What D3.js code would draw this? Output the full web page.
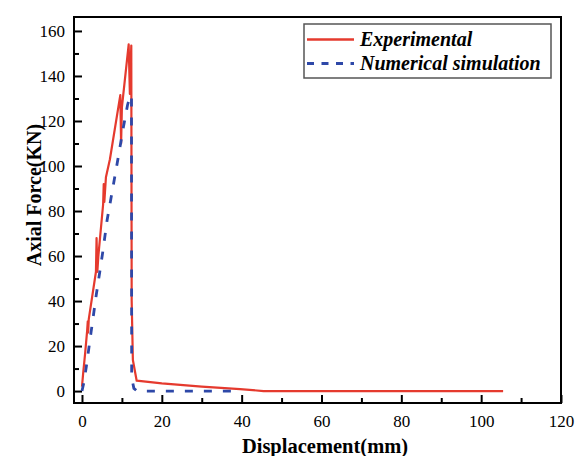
<!DOCTYPE html>
<html>
<head>
<meta charset="utf-8">
<script src="https://cdn.jsdelivr.net/npm/d3@7"></script>
<style>
  body { margin: 0; background: #fff; }
  text { font-family: "Liberation Serif", "Times New Roman", serif; }
</style>
</head>
<body>
<div id="chart"></div>
<script>
// displacement (mm) / axial force (kN)
var expDisp = [0, 0.3, 0.8, 1.3, 1.45, 1.55, 1.7, 3.5, 3.65, 3.85, 4.1, 5.3, 5.45, 5.6, 6.0, 7.0, 9.6, 9.8, 10.0, 11.7, 12.0, 12.35, 12.45, 12.75, 13.7, 20, 30, 39.6, 45.5, 105.5];
var expForce = [2, 8, 17, 27, 31, 26, 32, 53, 68, 53, 60, 83, 92, 84, 95, 103, 131.5, 110, 126, 154, 132, 153.5, 40, 13.8, 4.6, 3.4, 2.0, 0.9, 0, 0];

var numDisp = [0, 0.5, 1.1, 2.3, 3.6, 5.1, 6.3, 8.8, 10.4, 11.4, 12.1, 12.4, 12.45, 13.0, 13.8, 37.7];
var numForce = [0, 4, 11, 26.5, 43, 60.5, 76, 101, 117.5, 127, 131.5, 131, 6, 1.2, 0, 0];

var xTicks = [0, 20, 40, 60, 80, 100, 120];
var xMinor = [10, 30, 50, 70, 90, 110];
var yTicks = [0, 20, 40, 60, 80, 100, 120, 140, 160];
var yMinor = [10, 30, 50, 70, 90, 110, 130, 150];

var seriesNames = ["Experimental", "Numerical simulation"];

var margin = { top: 17, right: 14, bottom: 53, left: 74 },
  width = 575 - margin.left - margin.right,
  height = 456 - margin.top - margin.bottom;

var svg = d3
  .select("#chart")
  .append("svg")
  .attr("width", 575)
  .attr("height", 456)
  .append("g")
  .attr("transform", "translate(" + margin.left + "," + margin.top + ")");

var x = d3.scaleLinear().domain([-2, 120]).range([0, width]);
var y = d3.scaleLinear().domain([-5.3, 166.2]).range([height, 0]);

// axes with inward ticks
svg
  .append("g")
  .attr("transform", "translate(0," + height + ")")
  .call(d3.axisBottom(x).tickValues(xTicks).tickSizeInner(-8).tickSizeOuter(0).tickPadding(12));
svg
  .append("g")
  .attr("transform", "translate(0," + height + ")")
  .call(d3.axisBottom(x).tickValues(xMinor).tickSizeInner(-5).tickSizeOuter(0).tickFormat(""));

svg
  .append("g")
  .call(d3.axisLeft(y).tickValues(yTicks).tickSizeInner(-8).tickSizeOuter(0).tickPadding(9));
svg
  .append("g")
  .call(d3.axisLeft(y).tickValues(yMinor).tickSizeInner(-5).tickSizeOuter(0).tickFormat(""));

svg.selectAll(".domain").remove();
svg.selectAll(".tick").each(function () {
  d3.select(this.parentNode).attr("font-family", "Liberation Serif").attr("font-size", 17);
});
svg.selectAll(".tick line").attr("stroke", "#000").attr("stroke-width", 2);
svg
  .selectAll(".tick text")
  .attr("fill", "#000")
  .style("font-size", "17px")
  .style("font-family", "'Liberation Serif', serif");

// frame
svg
  .append("rect")
  .attr("x", 0)
  .attr("y", 0)
  .attr("width", width)
  .attr("height", height)
  .attr("fill", "none")
  .attr("stroke", "#000")
  .attr("stroke-width", 2);

var line = d3
  .line()
  .x(function (d) { return x(d[0]); })
  .y(function (d) { return y(d[1]); });

var expData = expDisp.map(function (d, i) { return [d, expForce[i]]; });
var numData = numDisp.map(function (d, i) { return [d, numForce[i]]; });

svg
  .append("path")
  .datum(expData)
  .attr("d", line)
  .attr("fill", "none")
  .attr("stroke", "#e53a2e")
  .attr("stroke-width", 2.2)
  .attr("stroke-linejoin", "round");

svg
  .append("path")
  .datum(numData)
  .attr("d", line)
  .attr("fill", "none")
  .attr("stroke", "#2e48a8")
  .attr("stroke-width", 2.8)
  .attr("stroke-dasharray", "8,11");

// axis titles
svg
  .append("text")
  .attr("x", 251)
  .attr("y", 435.5)
  .attr("text-anchor", "middle")
  .attr("fill", "#000")
  .style("font-size", "20.5px")
  .style("font-weight", "bold")
  .text("Displacement(mm)");

svg
  .append("text")
  .attr("transform", "rotate(-90)")
  .attr("x", -178)
  .attr("y", -33)
  .attr("text-anchor", "middle")
  .attr("fill", "#000")
  .style("font-size", "20px")
  .style("font-weight", "bold")
  .text("Axial Force(KN)");

// legend
var legend = svg.append("g").attr("transform", "translate(230,7)");
legend
  .append("rect")
  .attr("x", 0)
  .attr("y", 0)
  .attr("width", 247)
  .attr("height", 54)
  .attr("fill", "#fff")
  .attr("stroke", "#555")
  .attr("stroke-width", 1.5);

var legendColors = ["#e53a2e", "#2e48a8"];
var legendDash = [null, "7,7.5"];
seriesNames.forEach(function (name, i) {
  legend
    .append("line")
    .attr("x1", 3)
    .attr("x2", 50)
    .attr("y1", 15.5 + i * 24)
    .attr("y2", 15.5 + i * 24)
    .attr("stroke", legendColors[i])
    .attr("stroke-width", i === 0 ? 2.6 : 2.8)
    .attr("stroke-dasharray", legendDash[i]);
  legend
    .append("text")
    .attr("x", 56)
    .attr("y", 22 + i * 24)
    .attr("fill", "#000")
    .style("font-size", "20px")
    .style("font-weight", "bold")
    .style("font-style", "italic")
    .text(name);
});
</script>
</body>
</html>
